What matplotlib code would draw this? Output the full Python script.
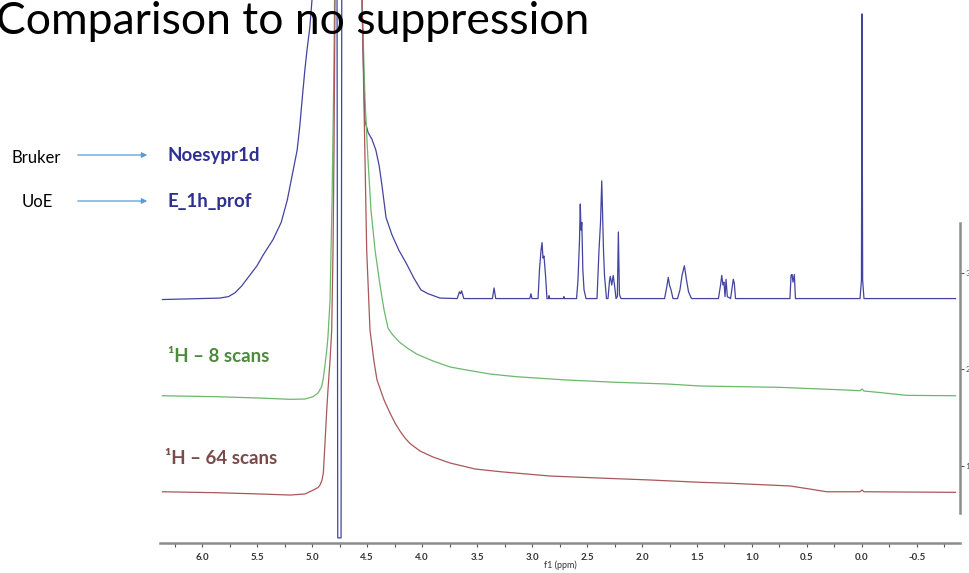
import matplotlib.pyplot as plt
from matplotlib.patches import FancyArrowPatch
from matplotlib.ticker import MultipleLocator, FormatStrFormatter

plt.rcParams['font.family'] = ['Lato', 'DejaVu Sans']
plt.rcParams['axes.unicode_minus'] = False

# ── Spectra (chemical shift in ppm, stacked intensity) ─────────────────────────
# Noesypr1d (presaturation) trace
noesy_ppm = [6.36, 5.84, 5.76, 5.70, 5.64, 5.56, 5.50, 5.445, 5.355, 5.28, 5.225, 5.18,
             5.135, 5.11, 5.09, 5.065, 5.045, 5.02, 5.00, 4.93, 4.775, 4.766, 4.736,
             4.727, 4.60, 4.545, 4.536, 4.527, 4.518, 4.49, 4.455, 4.42, 4.39, 4.365,
             4.327, 4.273, 4.21, 4.145, 4.073, 4.01, 3.945, 3.836, 3.70,
             3.68, 3.66, 3.65, 3.64, 3.62,
             3.36, 3.345, 3.33,
             3.02, 3.01, 3.00,
             2.945, 2.932, 2.918, 2.909, 2.90, 2.891, 2.877, 2.864,
             2.85, 2.845, 2.84, 2.715, 2.71, 2.705,
             2.595, 2.582, 2.568, 2.561, 2.555, 2.547, 2.538, 2.527, 2.509,
             2.409, 2.391, 2.377, 2.366, 2.357, 2.35, 2.341, 2.323,
             2.309, 2.295, 2.288, 2.275, 2.262, 2.25, 2.236,
             2.224, 2.215, 2.205, 2.191,
             1.795, 1.775, 1.761, 1.75, 1.736, 1.718,
             1.677, 1.655, 1.636, 1.615, 1.595, 1.577, 1.55,
             1.305, 1.286, 1.275, 1.264, 1.255, 1.245, 1.236, 1.224,
             1.195, 1.177, 1.17, 1.161, 1.15,
             0.655, 0.645, 0.636, 0.627, 0.615, 0.605,
             0.018, 0.005, 0.0, -0.006, -0.018, -0.85]
noesy_int = [2.72, 2.735, 2.75, 2.79, 2.86, 2.98, 3.07, 3.18, 3.34, 3.52, 3.75, 4.01,
             4.27, 4.53, 4.79, 5.10, 5.31, 5.54, 5.82, 8.0, 8.0, 0.25, 0.25,
             8.0, 8.0, 5.82, 5.31, 4.90, 4.57, 4.45, 4.38, 4.27, 4.11, 3.91,
             3.57, 3.39, 3.23, 3.10, 2.94, 2.82, 2.78, 2.735, 2.73,
             2.73, 2.80, 2.78, 2.81, 2.73,
             2.73, 2.84, 2.73,
             2.73, 2.78, 2.73,
             2.73, 3.03, 3.23, 3.31, 3.15, 3.17, 2.97, 2.73,
             2.73, 2.76, 2.73, 2.73, 2.75, 2.73,
             2.73, 2.92, 3.34, 3.71, 3.44, 3.52, 3.03, 2.82, 2.73,
             2.73, 3.23, 3.52, 3.95, 3.52, 3.23, 2.97, 2.73,
             2.73, 2.92, 2.96, 2.87, 2.97, 2.87, 2.73,
             2.75, 3.42, 2.77, 2.73,
             2.73, 2.85, 2.95, 2.87, 2.82, 2.73,
             2.73, 2.82, 2.97, 3.07, 2.92, 2.80, 2.73,
             2.73, 2.87, 2.97, 2.87, 2.90, 2.75, 2.93, 2.75,
             2.73, 2.87, 2.93, 2.89, 2.73,
             2.73, 2.97, 2.98, 2.90, 2.98, 2.73,
             2.73, 2.92, 5.68, 2.92, 2.73, 2.73]

# 1H, 8 scans (no suppression)
h8_ppm = [6.36, 5.864, 5.473, 5.20, 5.064, 4.991, 4.945, 4.912, 4.897, 4.882, 4.866,
          4.855, 4.836, 4.818, 4.805, 4.795, 4.68, 4.545, 4.518, 4.491, 4.464, 4.427,
          4.382, 4.345, 4.309, 4.273, 4.236, 4.20, 4.127, 4.048, 3.90, 3.745, 3.594,
          3.382, 3.139, 2.685, 2.23, 1.775, 1.473, 0.745, 0.139, 0.018, 0.0, -0.018,
          -0.164, -0.406, -0.85]
h8_int = [1.723, 1.713, 1.699, 1.686, 1.689, 1.713, 1.751, 1.817, 1.907, 2.041, 2.197,
          2.332, 2.715, 3.751, 4.788, 5.824, 9.0, 5.824, 4.788, 4.166, 3.648, 3.233,
          2.87, 2.611, 2.425, 2.363, 2.316, 2.274, 2.212, 2.155, 2.083, 2.021, 1.99,
          1.948, 1.92, 1.886, 1.862, 1.845, 1.824, 1.81, 1.782, 1.775, 1.793, 1.772,
          1.756, 1.727, 1.723]

# 1H, 64 scans (no suppression)
h64_ppm = [6.36, 5.864, 5.473, 5.20, 5.064, 4.988, 4.945, 4.927, 4.909, 4.897, 4.882,
           4.866, 4.855, 4.836, 4.821, 4.809, 4.80, 4.791, 4.68, 4.545, 4.527, 4.503,
           4.473, 4.436, 4.409, 4.345, 4.291, 4.245, 4.20, 4.155, 4.109, 4.018, 3.90,
           3.745, 3.518, 3.291, 2.836, 2.382, 1.927, 1.473, 1.20, 0.655, 0.473, 0.321,
           0.018, 0.0, -0.018, -0.85]
h64_int = [0.728, 0.718, 0.705, 0.694, 0.705, 0.746, 0.772, 0.798, 0.85, 0.922, 1.233,
           1.575, 1.782, 2.093, 2.404, 3.233, 4.269, 5.824, 9.0, 5.824, 4.715, 3.233,
           2.404, 2.073, 1.886, 1.679, 1.544, 1.440, 1.357, 1.285, 1.228, 1.150, 1.088,
           1.026, 0.964, 0.936, 0.891, 0.87, 0.85, 0.826, 0.816, 0.788, 0.756, 0.728,
           0.728, 0.746, 0.728, 0.722]

W, H = 970, 573


def fx(px):
    return px / W


def fy(py):
    return 1 - py / H


fig = plt.figure(figsize=(W / 100, H / 100), dpi=100)
ax = fig.add_axes([fx(160), fy(543), (960 - 160) / W, 543 / H])

ax.plot(noesy_ppm, noesy_int, color='#4343a0', lw=0.9)
ax.plot(h8_ppm, h8_int, color='#6cb86c', lw=0.9)
ax.plot(h64_ppm, h64_int, color='#a85858', lw=0.9)

ax.set_xlim(6.382, -0.891)
ax.set_ylim(0.197, 5.824)

# ── Axes styling ───────────────────────────────────────────────────────────────
for side in ('left', 'top'):
    ax.spines[side].set_visible(False)
for side in ('right', 'bottom'):
    ax.spines[side].set_color('#8c8c8c')
    ax.spines[side].set_linewidth(1.8)
ax.spines['right'].set_bounds(0.508, 3.513)

ax.yaxis.tick_right()
ax.set_yticks([1, 2, 3])
ax.tick_params(axis='y', direction='out', length=3, width=0.8, colors='#555555',
               labelsize=6, pad=1)

ax.xaxis.set_major_locator(MultipleLocator(0.5))
ax.xaxis.set_minor_locator(MultipleLocator(0.25))
ax.xaxis.set_major_formatter(FormatStrFormatter('%.1f'))
ax.tick_params(axis='x', which='both', direction='out', length=3, width=0.8,
               colors='#555555', labelsize=7, pad=4)
ax.tick_params(axis='x', labelcolor='#333333')
plt.setp(ax.get_xticklabels(), fontweight='bold')
ax.set_xlabel('f1 (ppm)', fontsize=6.5, color='#333333', labelpad=-1)

# ── Slide text ─────────────────────────────────────────────────────────────────
fig.text(fx(-4), fy(22), 'Comparison to no suppression', fontsize=32,
         fontweight='normal', va='center', ha='left', color='black')

fig.text(fx(12), fy(158), 'Bruker', fontsize=12, va='center', ha='left')
fig.text(fx(22), fy(202), 'UoE', fontsize=12, va='center', ha='left')
for yy in (155, 201):
    fig.add_artist(FancyArrowPatch((fx(75), fy(yy)), (fx(150), fy(yy)),
                                   transform=fig.transFigure, arrowstyle='-|>',
                                   mutation_scale=8, color='#5b9bd5', lw=0.9))

fig.text(fx(168), fy(155), 'Noesypr1d', fontsize=13.5, fontweight='bold',
         color='#2e3192', va='center', ha='left')
fig.text(fx(168), fy(201), 'E_1h_prof', fontsize=13.5, fontweight='bold',
         color='#2e3192', va='center', ha='left')
fig.text(fx(168), fy(357), '¹H – 8 scans', fontsize=13.5, fontweight='bold',
         color='#4e8a3e', va='center', ha='left')
fig.text(fx(165), fy(458), '¹H – 64 scans', fontsize=13.5, fontweight='bold',
         color='#7b4a4a', va='center', ha='left')

fig.savefig('out.png', dpi=100)
